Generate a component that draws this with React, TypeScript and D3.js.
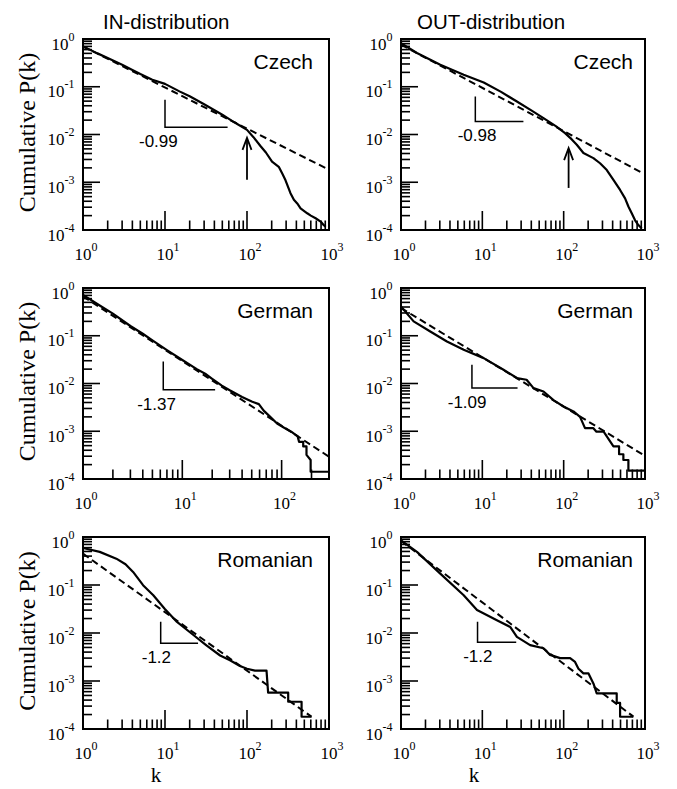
import React, { useEffect, useRef } from 'react';
import * as d3 from 'd3';

type Pt = [number, number];

// Column titles and row (language) labels
const columnTitles = ['IN-distribution', 'OUT-distribution'];
const languages = ['Czech', 'German', 'Romanian'];

// Upper end of the k axis for each panel [row][col]
const kMax = [
  [1000, 1000],
  [300, 1000],
  [1000, 1000],
];

// Cumulative distributions, [k, P(k)]
const czechIn: Pt[] = [
  [1, 0.7], [1.5, 0.5], [2, 0.4], [3, 0.29], [4, 0.225], [5, 0.185], [7, 0.14], [10, 0.115],
  [15, 0.08], [20, 0.063], [30, 0.043], [50, 0.026], [70, 0.018], [100, 0.0125], [120, 0.0088],
  [145, 0.0058], [170, 0.0042], [202, 0.0027], [244, 0.0021], [270, 0.0015], [295, 0.0011],
  [339, 5.9e-4], [373, 4.3e-4], [410, 3.6e-4], [450, 2.85e-4], [543, 2.24e-4], [600, 2.0e-4],
  [687, 1.76e-4], [791, 1.5e-4], [850, 1.3e-4], [910, 1.17e-4],
];
const czechOut: Pt[] = [
  [1, 0.82], [1.57, 0.51], [3.04, 0.29], [5.9, 0.179], [10.4, 0.123], [17, 0.078], [26.6, 0.049],
  [40, 0.032], [56.5, 0.022], [80, 0.015], [104, 0.0107], [125, 0.008], [145, 0.0061], [175, 0.0041],
  [232, 0.0032], [280, 0.0025], [339, 0.0018], [409, 0.00112], [494, 6.9e-4], [569, 4.6e-4],
  [625, 3.1e-4], [687, 2.24e-4], [755, 1.6e-4], [829, 1.27e-4], [911, 1.08e-4],
];
const germanIn: Pt[] = [
  [1, 0.72], [1.5, 0.42], [2, 0.29], [3, 0.16], [4, 0.11], [5, 0.08], [7, 0.05], [10, 0.031],
  [14, 0.02], [17, 0.016], [20, 0.0125], [25, 0.009], [30, 0.0072], [40, 0.0052], [50, 0.0042],
  [59, 0.0037], [66, 0.0027], [75, 0.0021], [90, 0.00145], [105, 0.0012], [125, 9.8e-4],
  [145, 7.8e-4], [150, 6.0e-4], [165, 6.0e-4], [165, 4.8e-4], [178, 4.8e-4], [178, 3.2e-4],
  [196, 2.5e-4], [196, 1.42e-4], [300, 1.42e-4],
];
const germanOut: Pt[] = [
  [1, 0.41], [1.43, 0.2], [2.29, 0.123], [3.67, 0.076], [5.9, 0.051], [10.4, 0.034], [18.2, 0.0194],
  [26.6, 0.013], [35, 0.012], [42.6, 0.008], [56.5, 0.0068], [75, 0.0045], [99.5, 0.0033],
  [132, 0.0026], [159, 0.002], [183, 0.00116], [232, 0.00116], [253, 9.8e-4], [310, 9.8e-4],
  [339, 7.8e-4], [409, 4.8e-4], [480, 4.8e-4], [480, 3.3e-4], [542, 3.3e-4], [542, 2.5e-4],
  [625, 2.5e-4], [625, 1.5e-4], [1000, 1.5e-4],
];
const romanianIn: Pt[] = [
  [1, 0.59], [1.6, 0.49], [2.55, 0.354], [3.3, 0.27], [4.08, 0.187], [5.4, 0.099], [7.2, 0.061],
  [9.9, 0.032], [14, 0.017], [22, 0.0092], [32, 0.0055], [47, 0.0034], [62, 0.0027], [82, 0.00205],
  [100, 0.0018], [125, 0.00165], [173, 0.00165], [181, 5.7e-4], [318, 5.7e-4], [318, 3.7e-4],
  [463, 3.7e-4], [463, 1.8e-4], [614, 1.8e-4],
];
const romanianOut: Pt[] = [
  [1, 0.85], [1.57, 0.49], [3.04, 0.173], [5.9, 0.061], [8.6, 0.03], [15.1, 0.0185], [22, 0.0134],
  [26.6, 0.0083], [38.7, 0.0056], [56.5, 0.0048], [68, 0.0035], [90.5, 0.003], [120, 0.003],
  [138, 0.0025], [152, 0.0018], [175, 0.00144], [202, 0.00144], [232, 8.9e-4], [255, 5.5e-4],
  [449, 5.5e-4], [449, 3.5e-4], [494, 3.5e-4], [494, 1.8e-4], [719, 1.8e-4],
];

// Power-law fits (dashed), end points [k, P(k)]
const czechInFit: Pt[] = [[1, 0.7], [1000, 0.00183]];
const czechOutFit: Pt[] = [[1, 0.76], [910, 0.0016]];
const germanInFit: Pt[] = [[1, 0.67], [299, 2.95e-4]];
const germanOutFit: Pt[] = [[1, 0.38], [955, 3.2e-4]];
const romanianInFit: Pt[] = [[1, 0.45], [610, 1.81e-4]];
const romanianOutFit: Pt[] = [[1, 0.83], [720, 1.81e-4]];

// Slope markers: label, corner k, right end k, corner P, top P, label centre k
const slopeLabels = ['-0.99', '-0.98', '-1.37', '-1.09', '-1.2', '-1.2'];
const slopeCornerK = [10, 8.2, 6.43, 7.45, 8.86, 8.73];
const slopeEndK = [58, 32, 21.4, 27.1, 25.3, 26.1];
const slopeCornerP = [0.0141, 0.0188, 0.00738, 0.00801, 0.00608, 0.00638];
const slopeTopP = [0.0536, 0.0628, 0.0289, 0.0247, 0.0171, 0.0171];
const slopeLabelK = [8.3, 8.6, 5.5, 6.5, 7.85, 8.8];

// Crossover arrows in the Czech panels: k, tail P, tip P
const arrowK = [100, 115];
const arrowTailP = [0.00113, 7.6e-4];
const arrowTipP = [0.0085, 0.0052];

const yDecades = [1, 1e-1, 1e-2, 1e-3, 1e-4];

const W = 677;
const H = 789;
const colLeft = [83, 401];
const colRight = [329, 645];
const rowTop = [39, 288, 537];
const rowBottom = [230, 479, 729];
const nameInset = [16, 12];

const SERIF = "'Liberation Serif', 'Times New Roman', serif";
const SANS = "'Liberation Sans', Arial, Helvetica, sans-serif";

const solids = [[czechIn, czechOut], [germanIn, germanOut], [romanianIn, romanianOut]];
const fits = [[czechInFit, czechOutFit], [germanInFit, germanOutFit], [romanianInFit, romanianOutFit]];

const isDecade = (v: number) => Math.abs(Math.log10(v) - Math.round(Math.log10(v))) < 1e-6;

const App = () => {
  const ref = useRef<SVGSVGElement>(null);

  useEffect(() => {
    if (!ref.current) return;
    const svg = d3.select(ref.current);
    svg.selectAll('*').remove();

    svg.append('rect').attr('width', W).attr('height', H).attr('fill', '#fff');

    // Column titles
    columnTitles.forEach((t, c) => {
      svg
        .append('text')
        .attr('x', colLeft[c] + (c === 0 ? 20 : 16))
        .attr('y', 29)
        .style('font-family', SANS)
        .style('font-size', '20.5px')
        .text(t);
    });

    languages.forEach((lang, r) => {
      [0, 1].forEach(c => {
        const idx = r * 2 + c;
        const x = d3.scaleLog().domain([1, kMax[r][c]]).range([colLeft[c], colRight[c]]);
        const y = d3.scaleLog().domain([1e-4, 1]).range([rowBottom[r], rowTop[r]]);
        const g = svg.append('g');

        // x ticks (bottom only, pointing inward)
        x.ticks().forEach(t => {
          const major = isDecade(t);
          g.append('line')
            .attr('x1', x(t)).attr('x2', x(t))
            .attr('y1', rowBottom[r]).attr('y2', rowBottom[r] - (major ? 19 : 9.5))
            .attr('stroke', '#000').attr('stroke-width', 1.6);
          if (major) {
            const lbl = g.append('text')
              .attr('x', x(t) - 8.5)
              .attr('y', rowBottom[r] + 30)
              .style('font-family', SERIF)
              .style('font-size', '17px');
            lbl.append('tspan').text('10');
            lbl.append('tspan').attr('dy', -9).style('font-size', '12px').text(String(Math.round(Math.log10(t))));
          }
        });

        // y ticks (left only, pointing inward)
        y.ticks().forEach(t => {
          const major = isDecade(t);
          g.append('line')
            .attr('x1', colLeft[c]).attr('x2', colLeft[c] + (major ? 17 : 9))
            .attr('y1', y(t)).attr('y2', y(t))
            .attr('stroke', '#000').attr('stroke-width', 1.6);
        });
        yDecades.forEach(t => {
          const lbl = g.append('text')
            .attr('x', colLeft[c] - 8.5)
            .attr('y', y(t) + 10.5)
            .attr('text-anchor', 'end')
            .style('font-family', SERIF)
            .style('font-size', '17px');
          lbl.append('tspan').text('10');
          lbl.append('tspan').attr('dy', -9).style('font-size', '12px').text(String(Math.round(Math.log10(t))));
        });

        const line = d3.line<Pt>().x(d => x(d[0])).y(d => y(d[1]));

        // Power-law fit
        g.append('path')
          .datum(fits[r][c])
          .attr('d', line)
          .attr('fill', 'none')
          .attr('stroke', '#000')
          .attr('stroke-width', 2)
          .attr('stroke-dasharray', '7,4');

        // Measured distribution
        g.append('path')
          .datum(solids[r][c])
          .attr('d', line)
          .attr('fill', 'none')
          .attr('stroke', '#000')
          .attr('stroke-width', 2.2)
          .attr('stroke-linejoin', 'round');

        // Slope marker
        const cx = x(slopeCornerK[idx]);
        const cy = y(slopeCornerP[idx]);
        g.append('path')
          .attr('d', `M${cx},${y(slopeTopP[idx])}V${cy}H${x(slopeEndK[idx])}`)
          .attr('fill', 'none')
          .attr('stroke', '#000')
          .attr('stroke-width', 1.5);
        g.append('text')
          .attr('x', x(slopeLabelK[idx]))
          .attr('y', cy + 20)
          .attr('text-anchor', 'middle')
          .style('font-family', SANS)
          .style('font-size', '17px')
          .text(slopeLabels[idx]);

        // Arrow at the crossover (Czech only)
        if (r === 0) {
          const ax = x(arrowK[c]);
          const tip = y(arrowTipP[c]);
          g.append('line')
            .attr('x1', ax).attr('x2', ax)
            .attr('y1', y(arrowTailP[c])).attr('y2', tip + 1)
            .attr('stroke', '#000').attr('stroke-width', 1.8);
          g.append('path')
            .attr('d', `M${ax - 4.5},${tip + 12}L${ax},${tip}L${ax + 4.5},${tip + 12}`)
            .attr('fill', 'none')
            .attr('stroke', '#000')
            .attr('stroke-width', 1.8);
        }

        // Frame
        g.append('rect')
          .attr('x', colLeft[c])
          .attr('y', rowTop[r])
          .attr('width', colRight[c] - colLeft[c])
          .attr('height', rowBottom[r] - rowTop[r])
          .attr('fill', 'none')
          .attr('stroke', '#000')
          .attr('stroke-width', 2);

        // Language name
        g.append('text')
          .attr('x', colRight[c] - nameInset[c])
          .attr('y', rowTop[r] + 30)
          .attr('text-anchor', 'end')
          .style('font-family', SANS)
          .style('font-size', '21px')
          .text(lang);

        // Y axis title on the left column
        if (c === 0) {
          g.append('text')
            .attr('transform', `translate(35,${(rowTop[r] + rowBottom[r]) / 2 - 2}) rotate(-90)`)
            .attr('text-anchor', 'middle')
            .style('font-family', SERIF)
            .style('font-size', '24px')
            .text('Cumulative P(k)');
        }

        // X axis title under the bottom row
        if (r === languages.length - 1) {
          g.append('text')
            .attr('x', colLeft[c] + 73)
            .attr('y', 782)
            .attr('text-anchor', 'middle')
            .style('font-family', SERIF)
            .style('font-size', '21px')
            .text('k');
        }
      });
    });
  }, []);

  return (
    <div style={{ position: 'absolute', left: 0, top: 0 }}>
      <svg ref={ref} width={W} height={H} />
    </div>
  );
};

export default App;
